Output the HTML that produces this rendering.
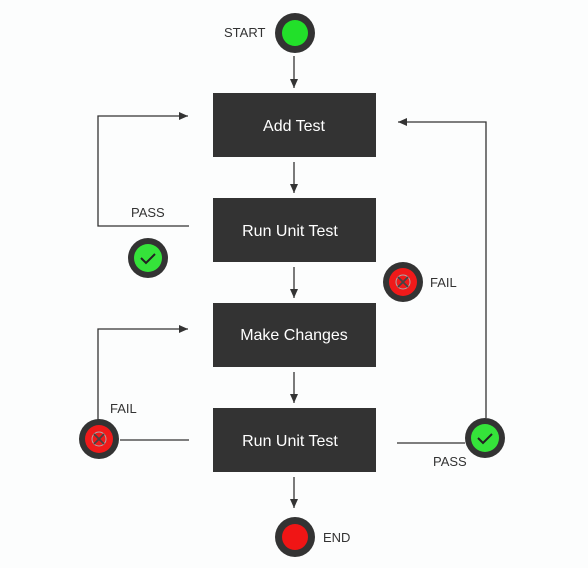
<!DOCTYPE html>
<html><head><style>
html,body{margin:0;padding:0;background:#fcfdfd;}
svg{display:block;font-family:"Liberation Sans",sans-serif;}
</style></head><body>
<svg width="588" height="568" viewBox="0 0 588 568">
<defs><marker id="a" markerWidth="10" markerHeight="10" refX="9" refY="5" orient="auto" markerUnits="userSpaceOnUse"><path d="M0,1 L9,5 L0,9 Z" fill="#333"/></marker></defs>
<g fill="#333">
<rect x="213" y="93" width="163" height="64"/>
<rect x="213" y="198" width="163" height="64"/>
<rect x="213" y="303" width="163" height="64"/>
<rect x="213" y="408" width="163" height="64"/>
</g>
<g fill="#fff" font-size="16" text-anchor="middle">
<text x="294" y="131">Add Test</text>
<text x="290" y="236">Run Unit Test</text>
<text x="294" y="340">Make Changes</text>
<text x="290" y="446">Run Unit Test</text>
</g>
<g stroke="#333" stroke-width="1.3" fill="none">
<line x1="294" y1="56" x2="294" y2="88" marker-end="url(#a)"/>
<line x1="294" y1="162" x2="294" y2="193" marker-end="url(#a)"/>
<line x1="294" y1="267" x2="294" y2="298" marker-end="url(#a)"/>
<line x1="294" y1="372" x2="294" y2="403" marker-end="url(#a)"/>
<line x1="294" y1="477" x2="294" y2="508" marker-end="url(#a)"/>
<polyline points="189,226 98,226 98,116 188,116" marker-end="url(#a)"/>
<polyline points="189,440 120,440"/>
<polyline points="98,420 98,329 188,329" marker-end="url(#a)"/>
<polyline points="397,443 465,443"/>
<polyline points="486,418 486,122 398,122" marker-end="url(#a)"/>
</g>
<circle cx="295" cy="33" r="20" fill="#333"/><circle cx="295" cy="33" r="13" fill="#22e02a"/>
<circle cx="295" cy="537" r="20" fill="#333"/><circle cx="295" cy="537" r="13" fill="#f01515"/>
<g>
<circle cx="148" cy="258" r="20" fill="#333"/><circle cx="148" cy="258" r="14" fill="#35e33a"/>
<path d="M141,258 l5,5 l9,-9" stroke="#222" stroke-width="2" fill="none"/>
<circle cx="485" cy="438" r="20" fill="#333"/><circle cx="485" cy="438" r="14" fill="#35e33a"/>
<path d="M478,438 l5,5 l9,-9" stroke="#222" stroke-width="2" fill="none"/>
<circle cx="403" cy="282" r="20" fill="#333"/><circle cx="403" cy="282" r="14" fill="#f01a1a"/>
<circle cx="403" cy="282" r="7" fill="none" stroke="#aaa" stroke-width="1"/>
<path d="M398,277 l10,10 M408,277 l-10,10" stroke="#444" stroke-width="1.8"/>
<circle cx="99" cy="439" r="20" fill="#333"/><circle cx="99" cy="439" r="14" fill="#f01a1a"/>
<circle cx="99" cy="439" r="7" fill="none" stroke="#aaa" stroke-width="1"/>
<path d="M94,434 l10,10 M104,434 l-10,10" stroke="#444" stroke-width="1.8"/>
</g>
<g fill="#333" font-size="13">
<text x="224" y="37">START</text>
<text x="323" y="542">END</text>
<text x="131" y="217">PASS</text>
<text x="430" y="287">FAIL</text>
<text x="110" y="413">FAIL</text>
<text x="433" y="466">PASS</text>
</g>
</svg>
</body></html>
